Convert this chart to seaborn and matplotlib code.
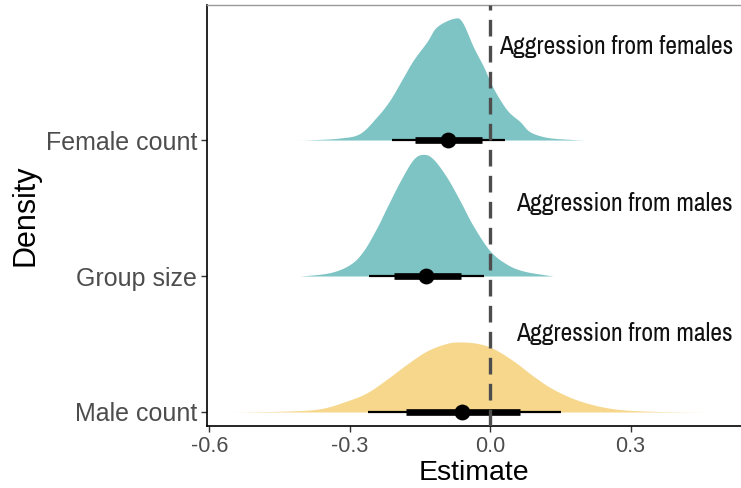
import numpy as np
import pandas as pd
import matplotlib
matplotlib.use("Agg")
import matplotlib.pyplot as plt
from matplotlib import font_manager
import seaborn as sns

# ---------------- data ----------------
categories = ["Male count", "Group size", "Female count"]
slab_colors = ["#F6D78C", "#7FC4C5", "#7FC4C5"]

female_x = [-0.421, -0.384, -0.320, -0.278, -0.242, -0.214, -0.185, -0.164, -0.135, -0.114,
            -0.078, -0.060, -0.036, -0.014, 0.007, 0.036, 0.064, 0.085, 0.121, 0.171, 0.203]
female_h = [0.0, 0.002, 0.015, 0.049, 0.171, 0.294, 0.465, 0.588, 0.723, 0.833,
            0.895, 0.870, 0.686, 0.539, 0.380, 0.221, 0.135, 0.061, 0.020, 0.005, 0.0]

group_x = [-0.412, -0.406, -0.342, -0.299, -0.271, -0.242, -0.221, -0.192, -0.164, -0.142,
           -0.121, -0.092, -0.064, -0.036, 0.0, 0.036, 0.071, 0.121, 0.135]
group_h = [0.0, 0.0, 0.025, 0.086, 0.184, 0.355, 0.502, 0.699, 0.858, 0.895,
           0.858, 0.723, 0.551, 0.368, 0.184, 0.086, 0.037, 0.007, 0.0]

male_x = [-0.548, -0.434, -0.363, -0.306, -0.263, -0.221, -0.178, -0.135, -0.092, -0.064,
          -0.028, 0.007, 0.050, 0.092, 0.135, 0.192, 0.263, 0.349, 0.466]
male_h = [0.0, 0.007, 0.024, 0.081, 0.142, 0.240, 0.351, 0.449, 0.505, 0.515,
          0.505, 0.466, 0.375, 0.265, 0.167, 0.081, 0.024, 0.005, 0.0]

point_est = [-0.060, -0.137, -0.089]
thick_lo = [-0.180, -0.206, -0.160]
thick_hi = [0.063, -0.062, -0.018]
thin_lo = [-0.261, -0.258, -0.210]
thin_hi = [0.151, -0.013, 0.032]

annot_text = ["Aggression from males", "Aggression from males", "Aggression from females"]
annot_y = [1.58, 2.53, 3.69]

x_ticks = [-0.6, -0.3, 0.0, 0.3]
x_ticklabels = ["-0.6", "-0.3", "0.0", "0.3"]


def smooth_outline(xs, hs, per=8):
    """Catmull-Rom rendering of the outline through the read points."""
    xs = np.asarray(xs, float)
    hs = np.asarray(hs, float)
    px = np.concatenate([[xs[0]], xs, [xs[-1]]])
    ph = np.concatenate([[hs[0]], hs, [hs[-1]]])
    ox, oh = [], []
    for i in range(1, len(px) - 2):
        t = np.linspace(0, 1, per, endpoint=False)
        for arr, out in ((px, ox), (ph, oh)):
            p0, p1, p2, p3 = arr[i - 1], arr[i], arr[i + 1], arr[i + 2]
            out.extend(0.5 * ((2 * p1) + (-p0 + p2) * t + (2 * p0 - 5 * p1 + 4 * p2 - p3) * t ** 2
                              + (-p0 + 3 * p1 - 3 * p2 + p3) * t ** 3))
    ox.append(xs[-1])
    oh.append(hs[-1])
    return np.array(ox), np.clip(np.array(oh), 0, None)


# pick a narrow font for the annotations if one is installed
narrow = None
for f in font_manager.fontManager.ttflist:
    if "Narrow" in f.name:
        narrow = f.name
        break
annot_kw = {}
if narrow is not None:
    annot_kw["family"] = [narrow, "Liberation Sans", "DejaVu Sans"]
    annot_size = 18.5
else:
    annot_kw["family"] = ["Liberation Sans", "DejaVu Sans"]
    annot_size = 15.5

# ---------------- plot ----------------
sns.set_theme(style="white")
plt.rcParams['font.family'] = ['Liberation Sans', 'DejaVu Sans']

fig = plt.figure(figsize=(7.41, 4.88), dpi=100)
ax = fig.add_axes([207 / 741, 1 - 426 / 488, 1 - 207 / 741, (426 - 5) / 488])

ypos = [1, 2, 3]
slabs = [(male_x, male_h), (group_x, group_h), (female_x, female_h)]
for y0, (sx, sh), col in zip(ypos, slabs, slab_colors):
    ox, oh = smooth_outline(sx, sh)
    ax.fill_between(ox, y0, y0 + oh, color=col, linewidth=0, zorder=2)

df = pd.DataFrame({"cat": categories, "y": ypos, "est": point_est,
                   "tlo": thick_lo, "thi": thick_hi, "lo": thin_lo, "hi": thin_hi})
ax.hlines(df["y"], df["lo"], df["hi"], color="black", linewidth=1.6, zorder=3)
ax.hlines(df["y"], df["tlo"], df["thi"], color="black", linewidth=4.8, zorder=4)
sns.scatterplot(data=df, x="est", y="y", ax=ax, color="black", s=130,
                edgecolor="black", linewidth=0, zorder=5, legend=False)

ax.axvline(0, color="#4D4D4D", linewidth=2.4, dashes=(5, 2.8), zorder=6)

for t, yy in zip(annot_text, annot_y):
    ax.text(0.519, yy, t, ha="right", va="center", fontsize=annot_size,
            color="#111111", zorder=7, **annot_kw)

ax.set_xlim(-0.605, 0.536)
ax.set_ylim(0.897, 3.993)
ax.set_xticks(x_ticks)
ax.set_xticklabels(x_ticklabels)
ax.set_yticks(ypos)
ax.set_yticklabels(categories)
ax.tick_params(axis="x", labelsize=15.5, labelcolor="#4D4D4D", color="#333333",
               length=4, width=1, bottom=True, pad=3)
ax.tick_params(axis="y", labelsize=18, labelcolor="#4D4D4D", color="#333333",
               length=4, width=1, left=True, pad=3)
ax.set_xlabel("Estimate", fontsize=20.5, color="black", labelpad=2)
ax.set_ylabel("Density", fontsize=22, color="black", labelpad=4)

ax.spines["right"].set_visible(False)
ax.spines["top"].set_color("#999999")
ax.spines["top"].set_linewidth(1.0)
ax.spines["left"].set_color("black")
ax.spines["bottom"].set_color("black")
ax.spines["left"].set_linewidth(1.2)
ax.spines["bottom"].set_linewidth(1.2)
ax.grid(False)

fig.savefig("out.png", dpi=100)
